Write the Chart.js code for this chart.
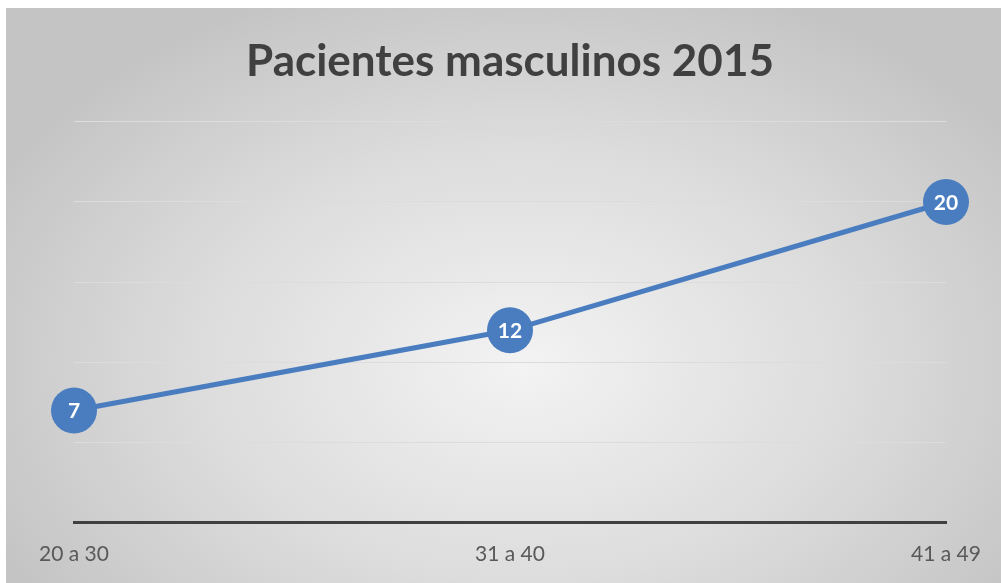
<!DOCTYPE html>
<html lang="es">
<head>
    <meta charset="UTF-8">
    <title>Pacientes masculinos 2015</title>
    <script src="https://cdn.jsdelivr.net/npm/chart.js"></script>
    <style>
        body {
            margin: 0;
            background: #fff;
        }
        .marco {
            position: absolute;
            left: 6px;
            top: 8px;
            width: 995px;
            height: 575px;
            background: radial-gradient(ellipse 60% 70% at 52% 62%, #f3f3f3 0%, #dcdcdc 55%, #c4c4c4 100%);
        }
    </style>
</head>
<body>
    <div class="marco">
        <canvas id="grafico"></canvas>
    </div>

    <script>
        const rangos = ['20 a 30', '31 a 40', '41 a 49'];
        const pacientes = [7, 12, 20];
        const titulo = 'Pacientes masculinos 2015';
        const azul = '#4a7dbf';

        // etiquetas dentro de cada punto
        const etiquetas = {
            id: 'etiquetas',
            afterDatasetsDraw(chart) {
                const ctx = chart.ctx;
                const meta = chart.getDatasetMeta(0);
                ctx.save();
                ctx.fillStyle = '#ffffff';
                ctx.font = 'bold 21px Lato';
                ctx.textAlign = 'center';
                ctx.textBaseline = 'middle';
                meta.data.forEach((pt, i) => {
                    ctx.fillText(chart.data.datasets[0].data[i], pt.x, pt.y + 1);
                });
                ctx.restore();
            }
        };

        const ctx = document.getElementById('grafico').getContext('2d');
        new Chart(ctx, {
            type: 'line',
            data: {
                labels: rangos,
                datasets: [{
                    data: pacientes,
                    borderColor: azul,
                    backgroundColor: azul,
                    borderWidth: 5,
                    pointRadius: 23,
                    pointHoverRadius: 23,
                    pointBorderWidth: 0,
                    tension: 0,
                    clip: false
                }]
            },
            options: {
                responsive: true,
                maintainAspectRatio: false,
                animation: false,
                layout: {
                    padding: { left: 68, right: 55, top: 0, bottom: -3 }
                },
                plugins: {
                    legend: { display: false },
                    tooltip: { enabled: false },
                    title: {
                        display: true,
                        text: titulo,
                        color: '#404040',
                        font: { family: 'Lato', size: 44, weight: 'bold' },
                        padding: { top: 27, bottom: 34 }
                    }
                },
                scales: {
                    x: {
                        offset: false,
                        grid: { display: false, drawTicks: false },
                        border: { display: true, color: '#404040', width: 3 },
                        ticks: {
                            color: '#595959',
                            font: { family: 'Lato', size: 21 },
                            padding: 19,
                            maxRotation: 0
                        }
                    },
                    y: {
                        min: 0,
                        max: 25,
                        grid: { color: '#dcdcdc', lineWidth: 1, drawTicks: false },
                        border: { display: false },
                        ticks: { display: false, stepSize: 5 },
                        afterFit(scale) { scale.width = 0; }
                    }
                }
            },
            plugins: [etiquetas]
        });
    </script>
</body>
</html>
